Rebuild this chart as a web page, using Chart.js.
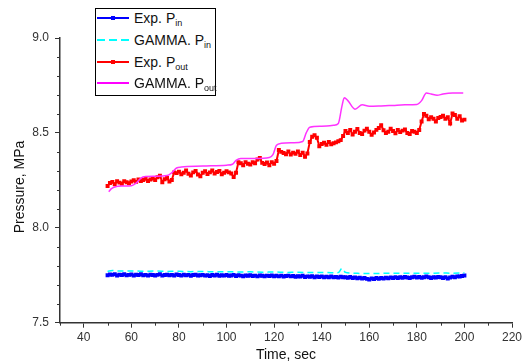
<!DOCTYPE html>
<html><head><meta charset="utf-8">
<script src="https://cdn.jsdelivr.net/npm/chart.js@4/dist/chart.umd.min.js"></script>
<style>
html,body{margin:0;padding:0;background:#fff;}
#wrap{position:relative;width:532px;height:364px;}
#legend{position:absolute;left:95px;top:8px;width:119px;height:86px;border:1px solid #000;background:#fff;font-family:"Liberation Sans",Arial,sans-serif;font-size:14px;color:#111;}
.row{position:absolute;left:0;height:20px;width:119px;}
.row svg{position:absolute;left:1px;top:0;}
.row span{position:absolute;left:38px;top:2px;white-space:nowrap;line-height:16px;}
sub{font-size:9px;vertical-align:-3px;line-height:0;}
</style></head>
<body>
<div id="wrap">
<canvas id="c" width="532" height="364"></canvas>
<div id="legend">
 <div class="row" style="top:-1px"><svg width="32" height="20"><line x1="0" y1="10" x2="32" y2="10" stroke="#0000ff" stroke-width="2"/><rect x="14" y="8" width="4" height="4" fill="#0000ff"/></svg><span>Exp. P<sub>in</sub></span></div>
 <div class="row" style="top:21px"><svg width="32" height="20"><line x1="0" y1="10" x2="32" y2="10" stroke="#00ffff" stroke-width="2" stroke-dasharray="8,4"/></svg><span>GAMMA. P<sub>in</sub></span></div>
 <div class="row" style="top:43px"><svg width="32" height="20"><line x1="0" y1="10" x2="32" y2="10" stroke="#ff0000" stroke-width="2"/><rect x="14" y="8" width="4" height="4" fill="#ff0000"/></svg><span>Exp. P<sub>out</sub></span></div>
 <div class="row" style="top:64px"><svg width="32" height="20"><line x1="0" y1="10" x2="32" y2="10" stroke="#ff00ff" stroke-width="2"/></svg><span>GAMMA. P<sub>out</sub></span></div>
</div>
</div>
<script>
const expTime = [50,51,52,53,54,55,56,57,58,59,60,61,62,63,64,65,66,67,68,69,70,71,72,73,74,75,76,77,78,79,80,81,82,83,84,85,86,87,88,89,90,91,92,93,94,95,96,97,98,99,100,101,102,103,104,105,106,107,108,109,110,111,112,113,114,115,116,117,118,119,120,121,122,123,124,125,126,127,128,129,130,131,132,133,134,135,136,137,138,139,140,141,142,143,144,145,146,147,148,149,150,151,152,153,154,155,156,157,158,159,160,161,162,163,164,165,166,167,168,169,170,171,172,173,174,175,176,177,178,179,180,181,182,183,184,185,186,187,188,189,190,191,192,193,194,195,196,197,198,199,200];

const expPin = [
7.750,7.754,7.752,7.756,7.749,7.753,7.751,7.755,7.750,7.752,
7.754,7.749,7.753,7.751,7.755,7.750,7.752,7.748,7.753,7.751,
7.749,7.752,7.756,7.748,7.751,7.753,7.750,7.752,7.749,7.754,
7.751,7.748,7.753,7.750,7.752,7.747,7.751,7.753,7.749,7.750,
7.752,7.748,7.750,7.746,7.751,7.749,7.753,7.747,7.750,7.748,
7.751,7.747,7.749,7.752,7.746,7.750,7.748,7.745,7.749,7.747,
7.750,7.746,7.748,7.744,7.749,7.747,7.745,7.748,7.746,7.749,
7.745,7.747,7.744,7.748,7.743,7.746,7.748,7.744,7.746,7.742,
7.745,7.743,7.747,7.741,7.744,7.742,7.745,7.740,7.743,7.741,
7.744,7.740,7.742,7.739,7.743,7.740,7.741,7.738,7.742,7.739,
7.740,7.737,7.741,7.736,7.738,7.734,7.737,7.733,7.735,7.731,
7.728,7.733,7.730,7.735,7.732,7.736,7.733,7.737,7.734,7.738,
7.735,7.739,7.736,7.740,7.737,7.741,7.738,7.735,7.739,7.742,
7.738,7.741,7.737,7.740,7.743,7.739,7.736,7.740,7.738,7.741,
7.739,7.736,7.740,7.733,7.738,7.742,7.740,7.744,7.743,7.746,
7.749];

const expPout = [
8.220,8.236,8.242,8.230,8.245,8.238,8.232,8.246,8.240,8.235,
8.244,8.250,8.242,8.255,8.246,8.252,8.258,8.247,8.255,8.260,
8.252,8.266,8.275,8.240,8.256,8.262,8.244,8.252,8.292,8.288,
8.296,8.282,8.290,8.302,8.285,8.276,8.292,8.300,8.281,8.272,
8.290,8.298,8.284,8.292,8.302,8.286,8.294,8.300,8.282,8.290,
8.298,8.292,8.286,8.268,8.290,8.345,8.340,8.330,8.346,8.338,
8.334,8.345,8.340,8.360,8.368,8.342,8.336,8.344,8.330,8.346,
8.338,8.352,8.410,8.400,8.394,8.388,8.402,8.386,8.396,8.390,
8.402,8.384,8.396,8.374,8.392,8.452,8.480,8.488,8.474,8.430,
8.442,8.448,8.438,8.452,8.440,8.446,8.450,8.456,8.462,8.484,
8.510,8.500,8.516,8.492,8.506,8.520,8.500,8.494,8.512,8.522,
8.506,8.490,8.502,8.516,8.526,8.540,8.514,8.500,8.506,8.522,
8.510,8.498,8.516,8.504,8.512,8.518,8.500,8.494,8.510,8.506,
8.500,8.515,8.560,8.600,8.590,8.572,8.582,8.574,8.560,8.578,
8.584,8.590,8.574,8.582,8.550,8.602,8.594,8.574,8.588,8.565,
8.570];

const gammaPinTime = [50,52,55,60,65,70,75,80,85,90,95,100,105,110,115,120,125,130,135,140,145,147,148.5,150,152,155,160,165,170,175,180,185,190,195,200];
const gammaPin = [7.770,7.775,7.772,7.773,7.771,7.772,7.770,7.771,7.769,7.770,7.768,7.769,7.767,7.768,7.766,7.767,7.765,7.766,7.764,7.765,7.763,7.764,7.786,7.765,7.762,7.760,7.759,7.760,7.761,7.760,7.761,7.760,7.762,7.761,7.763];

const gammaPoutTime = [50.5,51.5,53,56,60,62,64,66,70,75,77,79,81,90,100,102.5,104,106,112,118,119.5,121,123,128,132,133.5,135,140,145,147,148.5,149.5,151,154,157,160,165,170,175,180,182,184,186,188.5,191,195,199.5];
const gammaPout = [8.190,8.205,8.215,8.220,8.222,8.235,8.262,8.270,8.272,8.275,8.290,8.315,8.320,8.325,8.330,8.335,8.355,8.365,8.365,8.370,8.385,8.435,8.445,8.448,8.455,8.500,8.530,8.535,8.540,8.550,8.640,8.685,8.670,8.625,8.648,8.640,8.642,8.645,8.648,8.650,8.670,8.710,8.705,8.698,8.705,8.710,8.710];

const xMajorTicks = [40,60,80,100,120,140,160,180,200,220];
const xMinorTicks = [30,50,70,90,110,130,150,170,190,210];
const yMajorTicks = [7.5,8.0,8.5,9.0];
const yMinorTicks = [7.6,7.7,7.8,7.9,8.1,8.2,8.3,8.4,8.6,8.7,8.8,8.9];

const xTitle = 'Time, sec';
const yTitle = 'Pressure, MPa';

function pairs(xs, ys){ return xs.map((x,i)=>({x:x, y:ys[i]})); }

const FONT = '"Liberation Sans", Arial, sans-serif';

const decor = {
  id:'decor',
  afterDraw(chart){
    const ctx = chart.ctx, xs = chart.scales.x, ys = chart.scales.y;
    const ca = chart.chartArea;
    ctx.save();
    ctx.strokeStyle = '#333'; ctx.lineWidth = 1;
    ctx.beginPath();
    xMinorTicks.forEach(v=>{ const px = Math.round(xs.getPixelForValue(v))+0.5; ctx.moveTo(px, ca.bottom); ctx.lineTo(px, ca.bottom+3); });
    yMinorTicks.forEach(v=>{ const py = Math.round(ys.getPixelForValue(v))+0.5; ctx.moveTo(ca.left, py); ctx.lineTo(ca.left-3, py); });
    ctx.stroke();
    ctx.fillStyle = '#111';
    ctx.font = '14px ' + FONT;
    ctx.textAlign = 'center'; ctx.textBaseline = 'middle';
    ctx.fillText(xTitle, (ca.left+ca.right)/2, 355);
    ctx.translate(20, 187);
    ctx.rotate(-Math.PI/2);
    ctx.fillText(yTitle, 0, 0);
    ctx.restore();
  }
};

new Chart(document.getElementById('c'), {
  type:'line',
  data:{
    datasets:[
      {label:'Exp. Pin', data:pairs(expTime, expPin), borderColor:'#0000ff', backgroundColor:'#0000ff', borderWidth:2, pointStyle:'rect', pointRadius:2.8, pointBorderWidth:0, tension:0, order:3},
      {label:'GAMMA. Pin', data:pairs(gammaPinTime, gammaPin), borderColor:'#00ffff', borderWidth:1.5, borderDash:[6,4], pointRadius:0, cubicInterpolationMode:'monotone', order:1},
      {label:'Exp. Pout', data:pairs(expTime, expPout), borderColor:'#ff0000', backgroundColor:'#ff0000', borderWidth:2, pointStyle:'rect', pointRadius:2.8, pointBorderWidth:0, tension:0, order:2},
      {label:'GAMMA. Pout', data:pairs(gammaPoutTime, gammaPout), borderColor:'#ff33ff', borderWidth:1.5, pointRadius:0, cubicInterpolationMode:'monotone', order:0}
    ]
  },
  options:{
    responsive:false, animation:false,
    layout:{padding:{top:38, right:20, left:0, bottom:0}},
    plugins:{legend:{display:false}, tooltip:{enabled:false}},
    scales:{
      x:{type:'linear', min:30, max:220,
        afterBuildTicks:s=>{ s.ticks = xMajorTicks.map(v=>({value:v})); },
        afterFit:s=>{ s.height = 41.3; },
        ticks:{color:'#333', font:{family:FONT, size:12}, padding:3, maxRotation:0, autoSkip:false, callback:v=>String(v)},
        grid:{display:true, drawOnChartArea:false, drawTicks:true, tickLength:5, tickColor:'#333', tickWidth:1},
        border:{display:true, color:'#333', width:1.5}
      },
      y:{type:'linear', min:7.5, max:9.0,
        afterBuildTicks:s=>{ s.ticks = yMajorTicks.map(v=>({value:v})); },
        afterFit:s=>{ s.width = 60; },
        ticks:{color:'#333', font:{family:FONT, size:12}, padding:6, autoSkip:false, callback:v=>Number(v).toFixed(1)},
        grid:{display:true, drawOnChartArea:false, drawTicks:true, tickLength:5, tickColor:'#333', tickWidth:1},
        border:{display:true, color:'#333', width:1.5}
      }
    }
  },
  plugins:[decor]
});
</script>
</body></html>
